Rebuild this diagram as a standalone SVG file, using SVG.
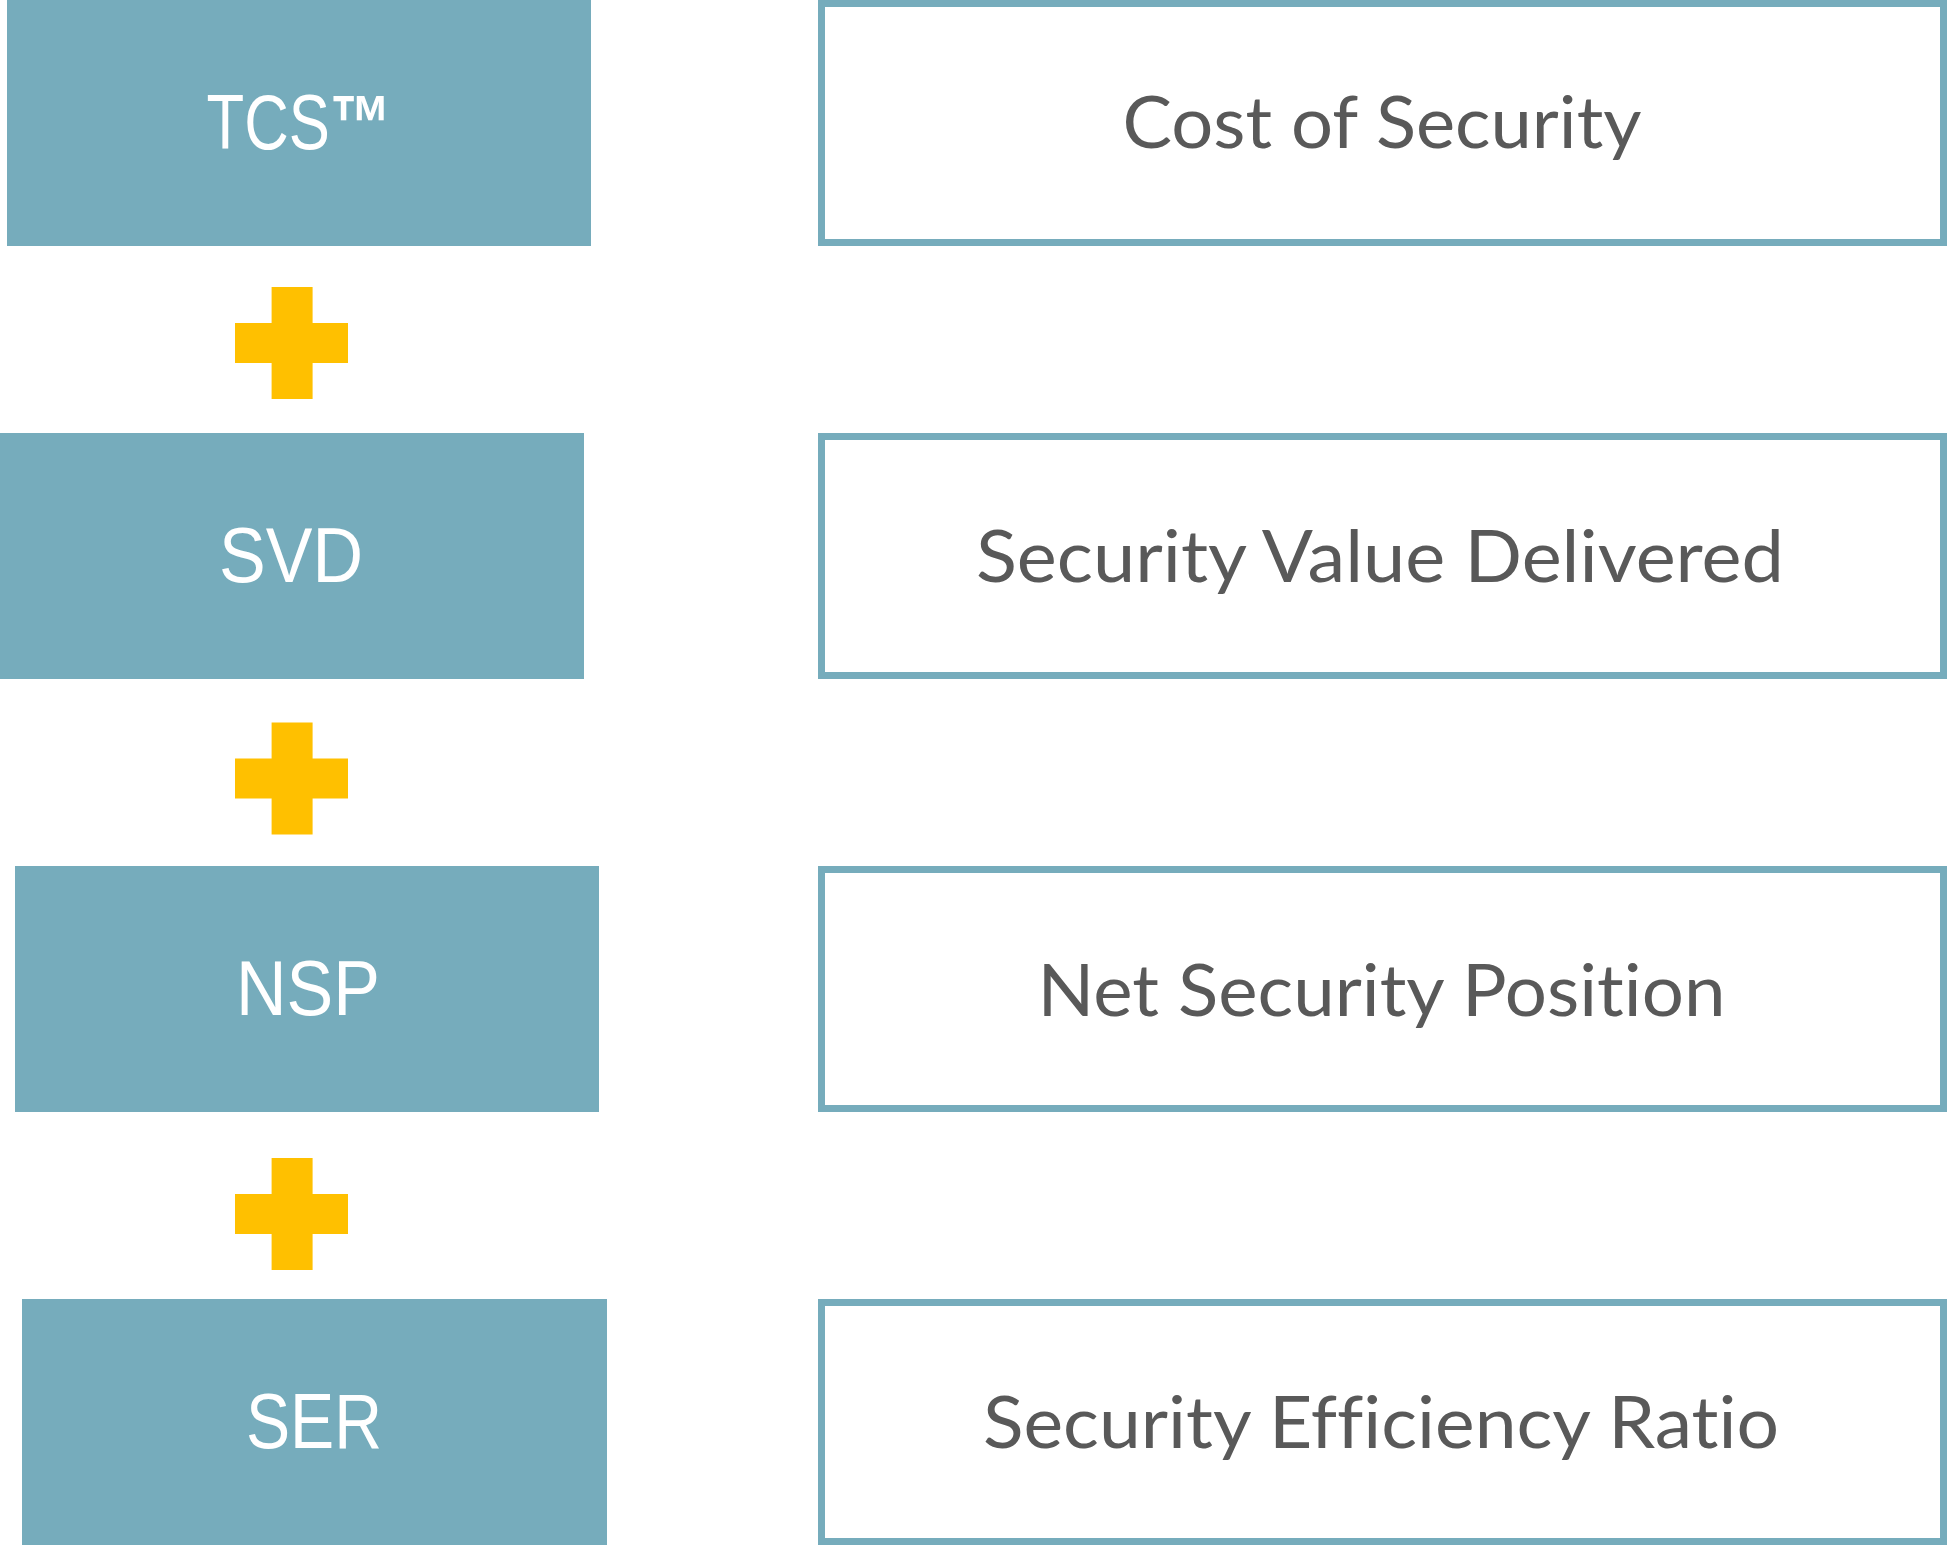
<svg xmlns="http://www.w3.org/2000/svg" width="1947" height="1545" viewBox="0 0 1947 1545">
  <style>
    .key { fill: #76ACBC; }
    .box { fill: #FFFFFF; stroke: #76ACBC; stroke-width: 7; }
    .plus { fill: #FFC000; }
    .abbr { font-family: "Liberation Sans Narrow", "Liberation Sans", Arial, sans-serif; font-size: 77px; fill: #FFFFFF; text-anchor: middle; }
    .tm { font-weight: bold; }
    .desc { font-family: Lato, "Open Sans", "Noto Sans", sans-serif; font-size: 72px; fill: #595959; text-anchor: middle; font-variant-ligatures: none; font-feature-settings: "liga" 0, "clig" 0; }
  </style>
  <defs>
    <path id="plusShape" d="M36.6 0 h41 v36 h35.4 v40 h-35.4 v36 h-41 v-36 h-36.6 v-40 h36.6 z"/>
  </defs>
  <rect width="1947" height="1545" fill="#FFFFFF"/>

  <g id="tcs">
    <rect class="key" x="7" y="0" width="584" height="246"/>
    <text class="abbr" x="299" y="149" textLength="185" lengthAdjust="spacingAndGlyphs">TCS<tspan class="tm">™</tspan></text>
  </g>
  <g id="cost-of-security">
    <rect class="box" x="821.5" y="3.5" width="1122" height="239"/>
    <text class="desc" x="1382" y="148" textLength="519" lengthAdjust="spacingAndGlyphs">Cost of Security</text>
  </g>

  <g id="svd">
    <rect class="key" x="0" y="433" width="584" height="246"/>
    <text class="abbr" x="291" y="582" textLength="144" lengthAdjust="spacingAndGlyphs">SVD</text>
  </g>
  <g id="security-value-delivered">
    <rect class="box" x="821.5" y="436.5" width="1122" height="239"/>
    <text class="desc" x="1380" y="581.5" textLength="808" lengthAdjust="spacingAndGlyphs">Security Value Delivered</text>
  </g>

  <g id="nsp">
    <rect class="key" x="15" y="866" width="584" height="246"/>
    <text class="abbr" x="308" y="1015" textLength="144" lengthAdjust="spacingAndGlyphs">NSP</text>
  </g>
  <g id="net-security-position">
    <rect class="box" x="821.5" y="869.5" width="1122" height="239"/>
    <text class="desc" x="1381.5" y="1016" textLength="688" lengthAdjust="spacingAndGlyphs">Net Security Position</text>
  </g>

  <g id="ser">
    <rect class="key" x="22" y="1299" width="585" height="246"/>
    <text class="abbr" x="314" y="1448" textLength="136" lengthAdjust="spacingAndGlyphs">SER</text>
  </g>
  <g id="security-efficiency-ratio">
    <rect class="box" x="821.5" y="1302.5" width="1122" height="239"/>
    <text class="desc" x="1381" y="1448" textLength="796" lengthAdjust="spacingAndGlyphs">Security Efficiency Ratio</text>
  </g>

  <g id="connectors">
    <use class="plus" href="#plusShape" x="235" y="287"/>
    <use class="plus" href="#plusShape" x="235" y="722.5"/>
    <use class="plus" href="#plusShape" x="235" y="1158"/>
  </g>
</svg>
